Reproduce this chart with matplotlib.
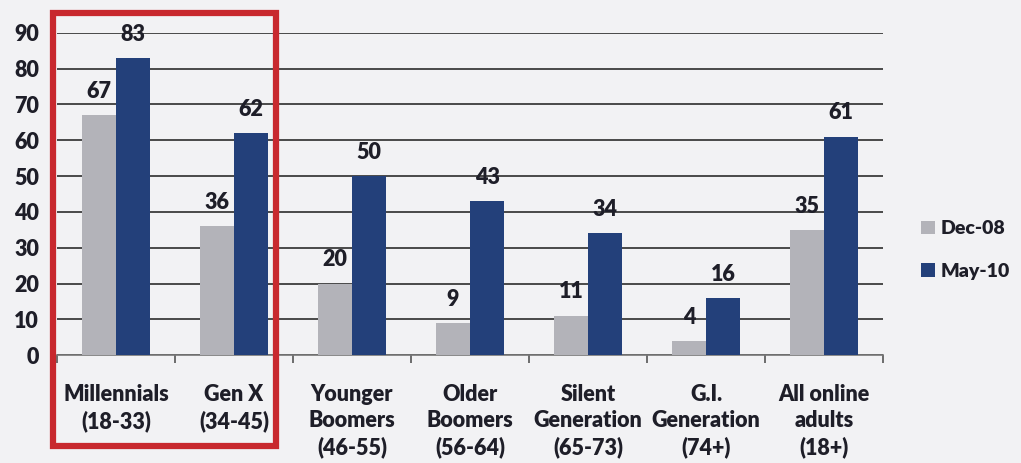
import numpy as np
import matplotlib.pyplot as plt
from matplotlib.patches import Rectangle

categories = [
    "Millennials\n(18-33)",
    "Gen X\n(34-45)",
    "Younger\nBoomers\n(46-55)",
    "Older\nBoomers\n(56-64)",
    "Silent\nGeneration\n(65-73)",
    "G.I.\nGeneration\n(74+)",
    "All online\nadults\n(18+)",
]
series_names = ["Dec-08", "May-10"]
dec08 = [67, 36, 20, 9, 11, 4, 35]
may10 = [83, 62, 50, 43, 34, 16, 61]
yticks = [0, 10, 20, 30, 40, 50, 60, 70, 80, 90]

BG = "#f2f2f4"
GRAY = "#b3b3b9"
NAVY = "#23407a"
TEXT = "#1e1e28"
WEIGHT = 800
FS = 15.5

plt.rcParams["font.family"] = ["Lato", "DejaVu Sans"]

fig = plt.figure(figsize=(10.21, 4.63), dpi=100, facecolor=BG)
ax = fig.add_axes([0.0558, 0.233, 0.809, 0.696])
ax.set_facecolor(BG)

x = np.arange(len(categories))
w = 0.29
b1 = ax.bar(x - w / 2, dec08, w, color=GRAY, label=series_names[0], zorder=3)
b2 = ax.bar(x + w / 2, may10, w, color=NAVY, label=series_names[1], zorder=3)

for bars, vals in ((b1, dec08), (b2, may10)):
    for rect, v in zip(bars, vals):
        ax.text(rect.get_x() + rect.get_width() / 2, v + 3.7, str(v),
                ha="center", va="bottom", fontsize=FS, fontweight=WEIGHT,
                color=TEXT, zorder=4)

ax.set_xlim(-0.5, len(categories) - 0.5)
ax.set_ylim(0, 90)
ax.set_yticks(yticks)
ax.set_yticklabels([str(v) for v in yticks], fontsize=FS, fontweight=WEIGHT,
                   color=TEXT)
ax.yaxis.grid(True, color="#3c3c3c", linewidth=1.3, zorder=0)
ax.set_axisbelow(True)

# category ticks sit between the groups, labels at group centres
ax.set_xticks(np.arange(-0.5, len(categories)), minor=False)
ax.set_xticklabels([])
ax.set_xticks(x, minor=True)
ax.set_xticklabels(categories, minor=True, fontsize=FS, fontweight=WEIGHT,
                   color=TEXT, va="top", linespacing=1.3)
ax.tick_params(axis="x", which="major", length=6, width=1.2, color="#555555")
ax.tick_params(axis="x", which="minor", length=0, pad=21)
ax.tick_params(axis="y", length=0, pad=13)

for s in ("top", "right", "left"):
    ax.spines[s].set_visible(False)
ax.spines["bottom"].set_color("#777777")
ax.spines["bottom"].set_linewidth(1.2)

leg = fig.legend(handles=[b1, b2], labels=series_names, loc="center left",
                 bbox_to_anchor=(0.902, 0.46), frameon=False,
                 borderpad=0, borderaxespad=0,
                 prop={"size": 14, "weight": WEIGHT},
                 handlelength=0.7, handleheight=0.7, handletextpad=0.3,
                 labelspacing=1.3)
for t in leg.get_texts():
    t.set_color(TEXT)

# highlight box around the two youngest generations
fig.add_artist(Rectangle((53 / 1021, 1 - 446 / 463), (276 - 53) / 1021,
                         (446 - 13) / 463, transform=fig.transFigure,
                         fill=False, edgecolor="#c8282e", linewidth=4.5,
                         zorder=10))

fig.savefig("out.png", dpi=100, facecolor=BG)
